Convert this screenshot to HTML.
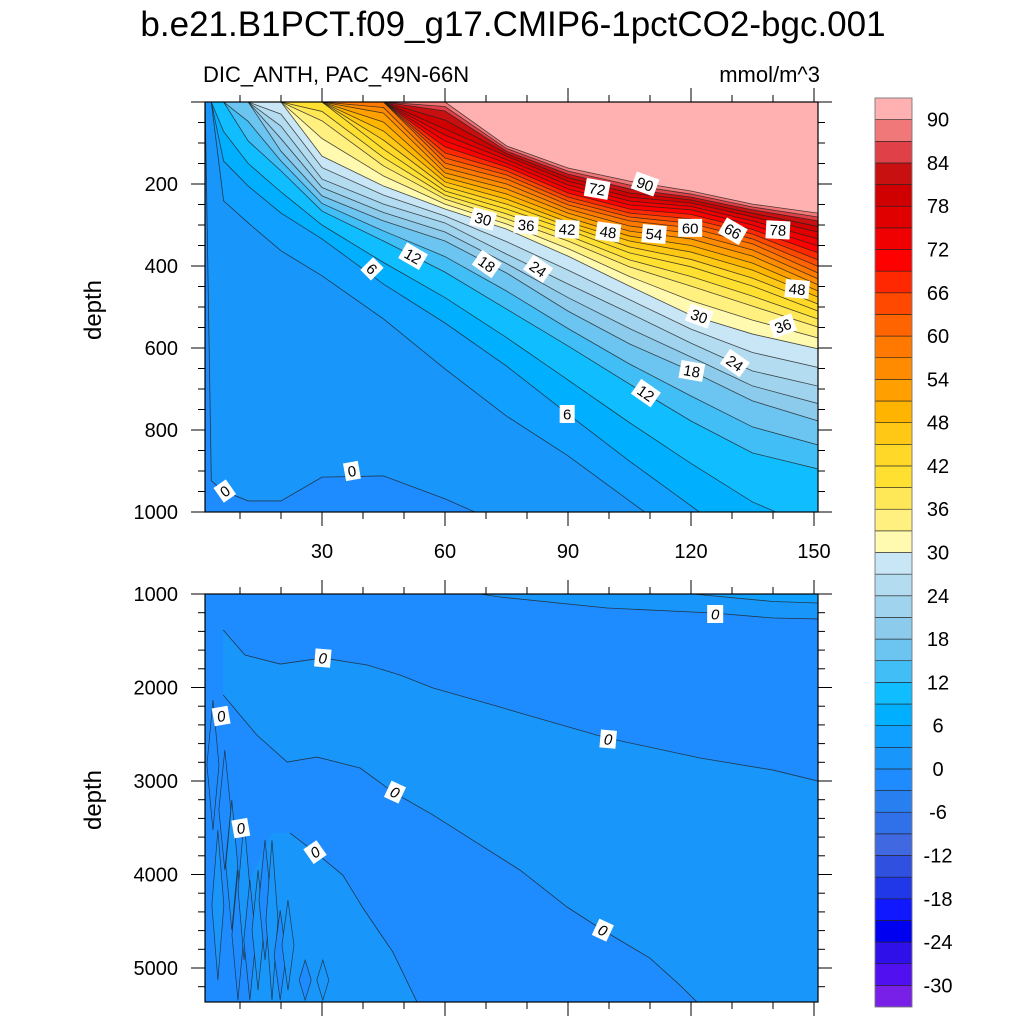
<!DOCTYPE html>
<html><head><meta charset="utf-8">
<style>
html,body{margin:0;padding:0;background:#fff;}
svg{display:block;font-family:"Liberation Sans",sans-serif;}
</style></head>
<body>
<svg id="chart" width="1024" height="1024" viewBox="0 0 1024 1024" xmlns="http://www.w3.org/2000/svg">
<defs>
<clipPath id="clipTop"><rect x="205" y="102" width="613" height="410"/></clipPath>
<clipPath id="clipBot"><rect x="205" y="594" width="613" height="408"/></clipPath>
</defs>
<text x="513" y="36" font-size="35" text-anchor="middle">b.e21.B1PCT.f09_g17.CMIP6-1pctCO2-bgc.001</text>
<text x="203" y="82" font-size="22">DIC_ANTH, PAC_49N-66N</text>
<text x="820" y="82" font-size="22" text-anchor="end">mmol/m^3</text>
<text transform="translate(101,310) rotate(-90)" font-size="24" text-anchor="middle">depth</text>
<text transform="translate(101,800) rotate(-90)" font-size="24" text-anchor="middle">depth</text>
<g id="topPanel"></g>
<g id="botPanel"></g>
<g id="axes"></g>
<g id="cbar"></g>
</svg>
<script>
// ---------- data ----------
const years = [1.5,3,6,12,20,30,45,60,75,90,105,120,135,151];
const iso0  = [0,924,949,973,973,915,912,968,1034,1168,1266,1363,1461,1558];
const iso3  = [0,0,241,295,363,424,529,651,766,863,973,1083,1193,1290];
const iso6  = [0,0,144,205,271,334,444,539,644,761,876,985,1095,1193];
const iso12 = [0,0,0,95,168,266,339,415,505,595,688,778,856,895];
const iso18 = [0,0,0,0,120,229,290,339,417,510,590,656,729,778];
const iso24 = [0,0,0,0,59,188,249,295,371,444,515,588,656,693];
const iso30 = [0,0,0,0,0,132,205,261,310,376,449,520,566,602];
const iso36 = [0,0,0,0,0,46,156,237,285,339,402,449,498,549];
const iso42 = [0,0,0,0,0,0,115,217,261,312,368,402,449,510];
const iso48 = [0,0,0,0,0,0,71,195,237,293,339,366,410,476];
const iso54 = [0,0,0,0,0,0,27,173,212,271,315,334,376,446];
const iso60 = [0,0,0,0,0,0,0,149,188,251,290,307,346,417];
const iso66 = [0,0,0,0,0,0,0,124,168,232,271,285,322,385];
const iso72 = [0,0,0,0,0,0,0,95,149,212,251,263,300,351];
const iso78 = [0,0,0,0,0,0,0,66,132,193,232,246,280,317];
const iso84 = [0,0,0,0,0,0,0,22,120,176,212,232,263,290];
const iso90 = [0,0,0,0,0,0,0,0,107,161,193,217,249,271];
const isoLevels = [0,3,6,12,18,24,30,36,42,48,54,60,66,72,78,84,90];
const isoDepths = [iso0,iso3,iso6,iso12,iso18,iso24,iso30,iso36,iso42,iso48,iso54,iso60,iso66,iso72,iso78,iso84,iso90];

const topLabelText  = ["0","0","6","12","18","24","30","36","42","48","54","60","66","78","72","90","48","36","30","24","18","12","6"];
const topLabelYear  = [6.3,37.3,42.2,52.2,70.2,82.7,69.3,79.8,89.8,99.8,111,119.8,130.2,141.2,97.1,108.8,145.9,142.4,122,130.7,120.2,109,89.8];
const topLabelDepth = [949,900,407,376,395,407,285,300,310,317,322,307,315,312,212,200,456,546,522,637,656,710,761];
const topLabelAngle = [-35,-10,45,30,35,35,15,5,3,8,5,0,30,3,10,20,5,-20,20,35,10,35,0];

// lower panel 0-contours (year, depth pairs)
const lineAYears = [5.9,11.2,19.8,30.2,41,49,57.1,73.4,78.3,99.5,122.2,140,151];
const lineADepth = [1385,1652,1749,1684,1759,1866,2005,2209,2273,2540,2754,2883,3001];
const lineCYears = [5.9,14.1,21.5,28.8,39.3,47.3,57.1,78.3,89.8,98.5,110,117.3,121.5];
const lineCDepth = [2080,2508,2797,2744,2861,3118,3364,3953,4349,4595,4895,5184,5366];
const lineBYears = [68.5,73.4,99.5,125.4,140,151];
const lineBDepth = [1000,1032,1150,1203,1257,1267];
const line3Years = [120.5,140,151];
const line3Depth = [1000,1080,1096];
const lineDYears = [22.2,28.3,35.1,40,47.3,53.2];
const lineDDepth = [3557,3761,4007,4360,4831,5366];
const lensYears  = [3.4,4.6,6.3,8.0,9.5,11.0,12.4,14.4,16.1,17.8,19.8,21.7,25.9,30.2];
const lensTop    = [2134,3525,2669,3204,3953,3418,4060,3953,3632,3632,4381,4274,4916,4916];
const lensBot    = [3525,5130,3953,4595,5344,4916,5344,5237,4916,5344,5344,5237,5344,5344];
const botLabelYear  = [30.2,5.4,47.8,10.2,28.3,99.8,125.9,98.5];
const botLabelDepth = [1685,2305,3119,3504,3761,2552,1214,4595];
const botLabelAngle = [5,-10,25,-10,-35,5,0,25];

const cbarLevels = [-30,-24,-18,-12,-6,0,6,12,18,24,30,36,42,48,54,60,66,72,78,84,90];
const bandColors = ["#7820E8","#5010F0","#3010E8","#0000F0","#1018FF","#2038E8","#3050E0","#4068E0","#3070E8","#2880F0","#1E8CFF",
 "#1896FA","#10A0FF","#00B0FF","#10BEFF","#40BEF5","#6CC4F0","#8CCBEB","#A0D4EE","#B4DCF0","#C8E6F5",
 "#FFFAB0","#FFF080","#FFE858","#FFE030","#FFD828","#FFC814","#FFB400","#FFA000","#FF8C00","#FF7800",
 "#FF6400","#FF4800","#FF2800","#FF0000","#F00000","#E00000","#D00000","#C81010","#E04048","#F07878","#FFB0B0"];

// ---------- scales ----------
const xS = yr => 199 + yr*4.1;
const yTop = d => 102 + d*0.41;
const yBot = d => 594 + (d-1000)*0.0935;
const bandColor = lower => bandColors[Math.round((lower+33)/3)];
const NS = "http://www.w3.org/2000/svg";
function mk(tag, attrs, parent){const e=document.createElementNS(NS,tag);for(const k in attrs)e.setAttribute(k,attrs[k]);parent.appendChild(e);return e;}

function isoline(L){
  const i = isoLevels.indexOf(L);
  if(i>=0) return isoDepths[i];
  const a = isoDepths[isoLevels.indexOf(L-3)], b = isoDepths[isoLevels.indexOf(L+3)];
  return a.map((v,k)=>(v+b[k])/2);
}

// ---------- upper panel ----------
const tp = document.getElementById('topPanel');
const tg = mk('g',{'clip-path':'url(#clipTop)'},tp);
const bg = mk('rect',{x:205,y:102,width:613,height:410,fill:bandColor(-3)},tg);


for(let L=0; L<=90; L+=3){
  const d = isoline(L);
  let pts = [[xS(years[0]),95]];
  years.forEach((yr,k)=>pts.push([xS(yr),yTop(d[k])]));
  pts.push([xS(years[years.length-1])+5,yTop(d[d.length-1])],[xS(years[years.length-1])+5,95]);
  const p = mk('polygon',{points:pts.map(q=>q.join(',')).join(' '),fill:bandColor(L)},tg);
  
  
}
for(let L=0; L<=90; L+=3){
  const d = isoline(L);
  const pts = years.map((yr,k)=>xS(yr)+','+yTop(d[k])).join(' ');
  const pl = mk('polyline',{points:pts,fill:'none',stroke:'#222','stroke-width':0.8,'stroke-opacity':0.8},tg);
  
  
}
topLabelText.forEach((t,i)=>{
  const g = mk('g',{transform:`translate(${xS(topLabelYear[i])},${yTop(topLabelDepth[i])}) rotate(${topLabelAngle[i]})`},tp);
  
  
  const w = t.length*9+6;
  mk('rect',{x:-w/2,y:-9,width:w,height:18,fill:'#fff'},g);
  const tx = mk('text',{x:0,y:5.5,'font-size':15,'text-anchor':'middle'},g);
  tx.textContent = t;
});

// ---------- lower panel ----------
const bp = document.getElementById('botPanel');
const bgp = mk('g',{'clip-path':'url(#clipBot)'},bp);
const bb = mk('rect',{x:205,y:594,width:613,height:408,fill:bandColor(-3)},bgp);


function ptsOf(ys,ds){return ys.map((y,k)=>[xS(y),yBot(ds[k])]);}
const A = ptsOf(lineAYears,lineADepth), C = ptsOf(lineCYears,lineCDepth), B = ptsOf(lineBYears,lineBDepth),
      T3 = ptsOf(line3Years,line3Depth), D = ptsOf(lineDYears,lineDDepth);
const r1 = A.concat([[830,yBot(lineADepth[lineADepth.length-1])],[830,1010]]).concat(C.slice().reverse());
const p1 = mk('polygon',{points:r1.map(q=>q.join(',')).join(' '),fill:bandColor(0)},bgp);


const r2 = D.concat([[xS(lensYears[6]),1010],[xS(lensYears[6]),yBot(lensTop[6])],[xS(lensYears[9]),yBot(lineDDepth[0])]]);
const p2 = mk('polygon',{points:r2.map(q=>q.join(',')).join(' '),fill:bandColor(0)},bgp);


const r3 = B.concat([[830,yBot(lineBDepth[lineBDepth.length-1])],[830,590],[xS(lineBYears[0]),590]]);
const p3 = mk('polygon',{points:r3.map(q=>q.join(',')).join(' '),fill:bandColor(0)},bgp);


const r4 = T3.concat([[830,yBot(line3Depth[line3Depth.length-1])],[830,590]]);
const p4 = mk('polygon',{points:r4.map(q=>q.join(',')).join(' '),fill:bandColor(3)},bgp);


lensYears.forEach((yr,i)=>{
  const x=xS(yr), t=yBot(lensTop[i]), b=yBot(lensBot[i]), m=(t+b)/2;
  const lp = mk('polygon',{points:`${x},${t} ${x+6},${m} ${x},${b} ${x-6},${m}`,fill:(i%2?bandColor(0):bandColor(-3)),stroke:'#222','stroke-width':0.7,'stroke-opacity':0.8},bgp);
  
  
});
[A,C,B,T3,D].forEach((L,i)=>{
  const pl = mk('polyline',{points:L.map(q=>q.join(',')).join(' '),fill:'none',stroke:'#222','stroke-width':0.8,'stroke-opacity':0.8},bgp);
  
  
});
botLabelYear.forEach((yr,i)=>{
  const g = mk('g',{transform:`translate(${xS(yr)},${yBot(botLabelDepth[i])}) rotate(${botLabelAngle[i]})`},bp);
  
  
  mk('rect',{x:-8,y:-9,width:16,height:18,fill:'#fff'},g);
  const tx = mk('text',{x:0,y:5.5,'font-size':15,'text-anchor':'middle','font-style':'italic'},g);
  tx.textContent='0';
});

// ---------- axes ----------
const ax = document.getElementById('axes');
function ln(x1,y1,x2,y2,p){return mk('line',{x1,y1,x2,y2,stroke:'#000','stroke-width':1},p);}
function frame(top,bot,yScale,d0,d1,major,minor,labels){
  mk('rect',{x:205,y:top,width:613,height:bot-top,fill:'none',stroke:'#000','stroke-width':1.2},ax);
  for(let yr=10; yr<=150; yr+=10){
    const x=xS(yr), len=(yr%30===0)?14:7;
    ln(x,top,x,top-len,ax); ln(x,bot,x,bot+len,ax);
  }
  for(let d=d0; d<=d1; d+=minor){
    const y=yScale(d); if(y<top-0.5||y>bot+0.5) continue;
    const len=(d%major===0)?14:7;
    ln(205,y,205-len,y,ax); ln(818,y,818+len,y,ax);
  }
  labels.forEach(d=>{const t=mk('text',{x:178,y:yScale(d)+7,'font-size':20,'text-anchor':'end'},ax);t.textContent=d;
    });
}
frame(102,512,yTop,0,1000,200,50,[200,400,600,800,1000]);
frame(594,1002,yBot,1000,5400,1000,200,[1000,2000,3000,4000,5000]);
[30,60,90,120,150].forEach(v=>{const t=mk('text',{x:xS(v),y:558,'font-size':20,'text-anchor':'middle'},ax);t.textContent=v;
  });

// ---------- colorbar ----------
const cb = document.getElementById('cbar');
const cTop=98, cBot=1007, bh=(cBot-cTop)/bandColors.length;
bandColors.forEach((c,i)=>{
  const r = mk('rect',{x:875,y:cBot-(i+1)*bh,width:37,height:bh,fill:c,stroke:'#222','stroke-width':0.6},cb);
  
  
});
mk('rect',{x:875,y:cTop,width:37,height:cBot-cTop,fill:'none',stroke:'#888','stroke-width':0.8},cb);
cbarLevels.forEach(v=>{
  const y = cBot - ((v+33)/3)*bh;
  const t = mk('text',{x:938,y:y+7,'font-size':20,'text-anchor':'middle'},cb);
  t.textContent=v;
  
  
});
</script>
</body></html>
